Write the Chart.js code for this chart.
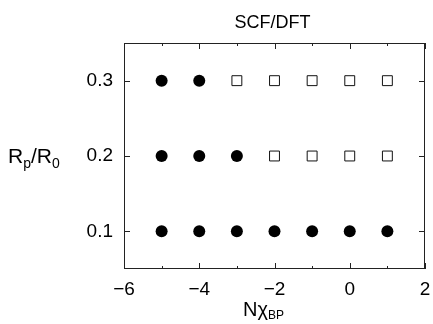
<!DOCTYPE html>
<html><head><meta charset="utf-8">
<script src="https://cdn.jsdelivr.net/npm/chart.js@4/dist/chart.umd.min.js"></script>
<style>html,body{margin:0;padding:0;background:#fff}#wrap{width:433px;height:324px}</style>
</head><body><div id="wrap"><canvas id="c" width="433" height="324"></canvas></div>
<script>
const chiN = [-5, -4, -3, -2, -1, 0, 1];
const rowY = [0.1, 0.2, 0.3];
// 1 = filled circle, 0 = open square
const phase01 = [1, 1, 1, 1, 1, 1, 1];
const phase02 = [1, 1, 1, 0, 0, 0, 0];
const phase03 = [1, 1, 0, 0, 0, 0, 0];
const xTicks = [-6, -4, -2, 0, 2];
const xMinor = [-5, -3, -1, 1];
const yTicks = [0.1, 0.2, 0.3];
const titleText = 'SCF/DFT';

const FONT = '"Liberation Sans", Arial, Helvetica, sans-serif';
const phases = [phase01, phase02, phase03];
const filled = [], open = [];
phases.forEach((ph, r) => ph.forEach((v, i) => {
  (v ? filled : open).push({ x: chiN[i], y: rowY[r] });
}));

function drawParts(ctx, parts, x, y) {
  let cx = x;
  parts.forEach(p => {
    ctx.font = p.size + 'px ' + FONT;
    ctx.fillText(p.t, cx, y + (p.dy || 0));
    cx += ctx.measureText(p.t).width;
  });
}

const framePlugin = {
  id: 'frame',
  beforeDatasetsDraw(chart) {
    const { ctx, chartArea: a, scales: { x, y } } = chart;
    ctx.save();
    ctx.strokeStyle = '#222';
    ctx.lineWidth = 1;
    ctx.strokeRect(a.left + 0.5, a.top + 0.5, a.right - a.left - 1, a.bottom - a.top - 1);
    ctx.beginPath();
    const tick = (vals, len) => vals.forEach(v => {
      const px = Math.round(x.getPixelForValue(v)) + 0.5;
      ctx.moveTo(px, a.bottom); ctx.lineTo(px, a.bottom - len);
      ctx.moveTo(px, a.top); ctx.lineTo(px, a.top + len);
    });
    tick(xTicks, 6); tick(xMinor, 3);
    yTicks.forEach(v => {
      const py = Math.round(y.getPixelForValue(v)) + 0.5;
      ctx.moveTo(a.left, py); ctx.lineTo(a.left + 6, py);
      ctx.moveTo(a.right, py); ctx.lineTo(a.right - 6, py);
    });
    ctx.stroke();
    ctx.restore();
  },
  afterDraw(chart) {
    const { ctx, chartArea: a } = chart;
    ctx.save();
    ctx.fillStyle = '#000';
    ctx.textBaseline = 'alphabetic';
    ctx.font = '18px ' + FONT;
    ctx.textAlign = 'center';
    ctx.fillText(titleText, (a.left + a.right) / 2 - 2, 28);
    ctx.textAlign = 'left';
    drawParts(ctx, [
      { t: 'R', size: 21 }, { t: 'p', size: 14, dy: 5 },
      { t: '/R', size: 21 }, { t: '0', size: 14, dy: 5 }
    ], 8, 163);
    drawParts(ctx, [
      { t: 'N\u03C7', size: 20 }, { t: 'BP', size: 12, dy: 3 }
    ], 243, 316);
    ctx.restore();
  }
};

new Chart(document.getElementById('c'), {
  type: 'scatter',
  data: {
    datasets: [
      { data: filled, pointStyle: 'circle', pointRadius: 6, pointHoverRadius: 6,
        backgroundColor: '#000', borderColor: '#000', borderWidth: 0 },
      { data: open, pointStyle: 'rect', pointRadius: 7, pointHoverRadius: 7,
        backgroundColor: '#fff', borderColor: '#111', borderWidth: 1 }
    ]
  },
  options: {
    responsive: false, animation: false, devicePixelRatio: 1,
    layout: { padding: { top: 43, right: 6, left: 0, bottom: 0 } },
    plugins: { legend: { display: false }, tooltip: { enabled: false }, title: { display: false } },
    scales: {
      x: {
        type: 'linear', min: -6, max: 2,
        afterBuildTicks: s => { s.ticks = xTicks.map(v => ({ value: v })); },
        afterFit: s => { s.height = 55; },
        grid: { display: false }, border: { display: false },
        ticks: { color: '#000', padding: 1, maxRotation: 0, font: { family: FONT, size: 19 },
          callback: v => (v < 0 ? '\u2212' : '') + Math.abs(v) }
      },
      y: {
        type: 'linear', min: 0.05, max: 0.35,
        afterBuildTicks: s => { s.ticks = yTicks.map(v => ({ value: v })); },
        afterFit: s => { s.width = 124; },
        grid: { display: false }, border: { display: false },
        ticks: { color: '#000', padding: 3, font: { family: FONT, size: 19 },
          callback: v => Number(v).toFixed(1) }
      }
    }
  },
  plugins: [framePlugin]
});
</script></body></html>
